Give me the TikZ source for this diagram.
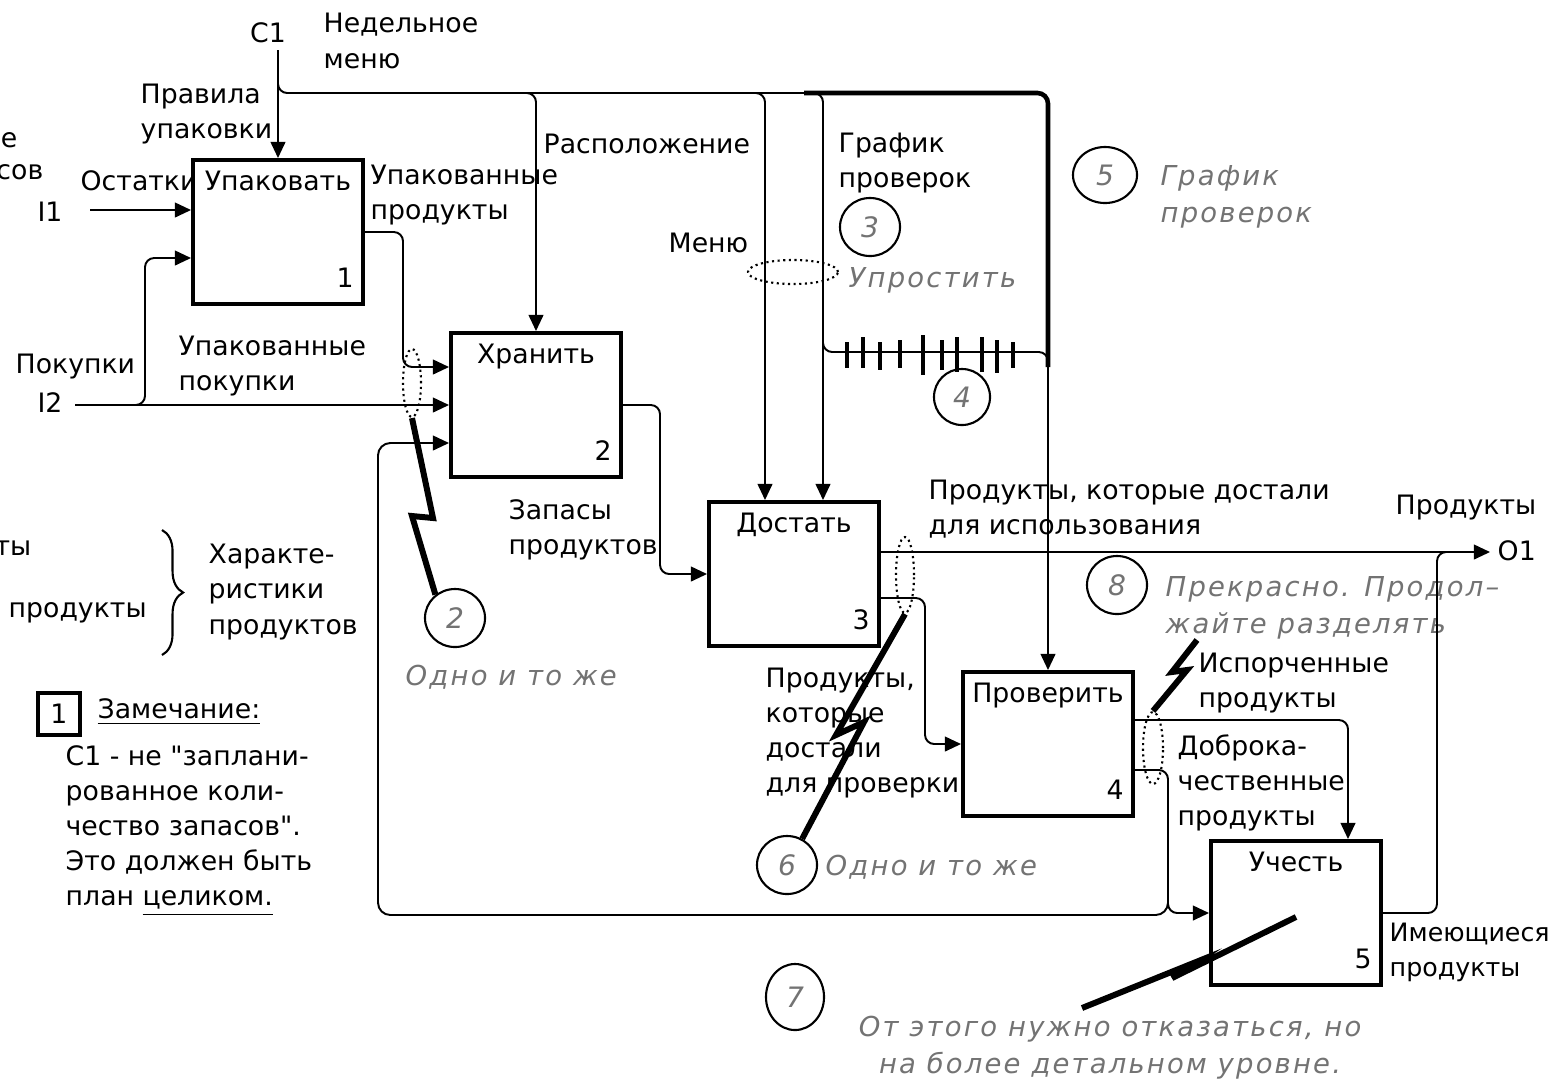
\documentclass[tikz,border=0pt]{standalone}
\usepackage{fontspec}
\setmainfont{DejaVu Sans}
\newfontfamily\notefont[LetterSpace=8]{DejaVu Sans}
\usetikzlibrary{arrows.meta,shapes.geometric,calc,decorations.pathreplacing}
\newcommand\sz{\fontsize{7.6}{10}\selectfont}

\tikzset{
  func/.style={draw, line width=1.1pt, minimum width=1.7cm, minimum height=1.44cm, inner sep=0pt},
  fname/.style={anchor=north, inner sep=3.5pt},
  fnum/.style={anchor=south east, inner xsep=3pt, inner ysep=5pt},
  flow/.style={line width=0.55pt, rounded corners=2.6pt},
  arr/.style={flow, -{Triangle[length=4.6pt, width=4.2pt]}},
  heavy/.style={line width=1.3pt, rounded corners=3pt},
  bolt/.style={line width=1.7pt, line join=miter},
  hatch/.style={line width=1.3pt},
  bundle/.style={draw, ellipse, densely dotted, line width=0.6pt, inner sep=0pt},
  cmark/.style={draw, ellipse, line width=0.6pt, inner sep=0pt, minimum width=0.6cm, minimum height=0.58cm,
    font={\notefont\itshape\fontsize{8}{10}\selectfont}, text=black!55},
  note/.style={font={\notefont\itshape\fontsize{7.8}{10.5}\selectfont}, text=black!55, inner sep=0pt, anchor=west, align=left},
  lbl/.style={inner sep=0pt, anchor=west, align=left},
}

\begin{document}
\begin{tikzpicture}[x=0.01cm, y=-0.01cm, font=\sz]
  \useasboundingbox (0,0) rectangle (1555,1084);

  % functions
  \node[func, label={[fname]north:Упаковать}, label={[fnum]south east:1}] (b1) at (278,232) {};
  \node[func, label={[fname]north:Хранить}, label={[fnum]south east:2}] (b2) at (536,405) {};
  \node[func, label={[fname]north:Достать}, label={[fnum]south east:3}] (b3) at (794,574) {};
  \node[func, label={[fname]north:Проверить}, label={[fnum]south east:4}] (b4) at (1048,744) {};
  \node[func, label={[fname]north:Учесть}, label={[fnum]south east:5}] (b5) at (1296,913) {};

  % arrow labels
  \node[lbl, anchor=center] (c1lab) at (268,33) {C1};
  \node[lbl] (weekmenu) at (323,41) {Недельное\\меню};
  \node[lbl] (rules) at (140,114) {Правила\\упаковки};
  \node[lbl, anchor=east] (cut1) at (18,140) {е};
  \node[lbl, anchor=east] (cut2) at (44,172) {сов};
  \node[lbl] (rest) at (80,181) {Остатки};
  \node[lbl, anchor=center] (i1lab) at (50,212) {I1};
  \node[lbl] (packprod) at (370,195) {Упакованные\\продукты};
  \node[lbl] (buy) at (15,367) {Покупки};
  \node[lbl, anchor=center] (i2lab) at (50,403) {I2};
  \node[lbl] (packbuy) at (178,366) {Упакованные\\покупки};
  \node[lbl] (place) at (543,144) {Расположение};
  \node[lbl] (sched) at (838,163) {График\\проверок};
  \node[lbl] (menu) at (668,243) {Меню};
  \node[lbl] (stock) at (508,530) {Запасы\\продуктов};
  \node[lbl] (use) at (928,509) {Продукты, которые достали\\для использования};
  \node[lbl] (prod) at (1395,508) {Продукты};
  \node[lbl] (o1lab) at (1497,551) {O1};
  \node[lbl] (check) at (765,733) {Продукты,\\которые\\достали\\для проверки};
  \node[lbl] (bad) at (1198,683) {Испорченные\\продукты};
  \node[lbl] (good) at (1177,783) {Доброка-\\чественные\\продукты};
  \node[lbl, font=\fontsize{7.2}{10}\selectfont] (have) at (1389,952) {Имеющиеся\\продукты};

  % left margin
  \node[lbl, anchor=east] (cut3) at (32,548) {ты};
  \node[lbl] (cut4) at (8,613) {продукты};
  \node[lbl] (chars) at (208,592) {Характе-\\ристики\\продуктов};
  \draw[decorate, decoration={brace, amplitude=6pt}, line width=0.6pt] (162,530) -- (162,655);
  \node[draw, line width=1pt, minimum size=0.42cm, inner sep=0pt] (nb1) at (59,714) {1};
  \node[lbl] (remark) at (97,712) {\underline{Замечание:}};
  \node[lbl] (remtext) at (65,831) {C1 - не \textquotedbl заплани-\\рованное коли-\\чество запасов\textquotedbl.\\Это должен быть\\план \underline{целиком.}};

  % reader notes
  \node[cmark] (n2) at (455,618) {2};
  \node[note] (t2) at (405,677) {Одно и то же};
  \node[cmark] (n3) at (870,227) {3};
  \node[note] (t3) at (848,280) {Упростить};
  \node[cmark, minimum width=0.56cm, minimum height=0.56cm] (n4) at (962,397) {4};
  \node[cmark, minimum width=0.64cm, minimum height=0.56cm] (n5) at (1105,175) {5};
  \node[note] (t5) at (1160,197) {График\\проверок};
  \node[cmark] (n6) at (787,865) {6};
  \node[note] (t6) at (825,867) {Одно и то же};
  \node[cmark, minimum width=0.58cm, minimum height=0.66cm] (n7) at (795,997) {7};
  \node[note, anchor=center, align=center] (t7) at (1110,1048) {От этого нужно отказаться, но\\на более детальном уровне.};
  \node[cmark] (n8) at (1117,585) {8};
  \node[note] (t8) at (1165,608) {Прекрасно. Продол–\\жайте разделять};

  % bundles
  \node[bundle, minimum width=0.18cm, minimum height=0.68cm] (bn2) at (412,383) {};
  \node[bundle, minimum width=0.18cm, minimum height=0.76cm] (bn3) at (905,575) {};
  \node[bundle, minimum width=0.2cm, minimum height=0.72cm] (bn4) at (1153,748) {};
  \node[bundle, minimum width=0.9cm, minimum height=0.24cm] (bnm) at (793,272) {};

  % route points
  \coordinate (c1) at (278,50);
  \coordinate (c1b) at (278,80);
  \coordinate (k1) at (804,93);
  \coordinate (k2) at (1048,367);
  \coordinate (j2) at (515,93);
  \coordinate (j3a) at (745,93);
  \coordinate (j3b) at (803,93);
  \coordinate (h1) at (823,330);
  \coordinate (h2) at (1048,352);
  \coordinate (i1) at (90,210);
  \coordinate (i2) at (75,405);
  \coordinate (i2b) at (128,405);
  \coordinate (p1) at (145,258);
  \coordinate (p2) at (403,367);
  \coordinate (p3) at (660,574);
  \coordinate (p4) at (925,744);
  \coordinate (o1) at (1490,552);
  \coordinate (q0) at (1168,890);
  \coordinate (q1) at (1168,913);
  \coordinate (q2) at (378,915);
  \coordinate (q3) at (378,443);
  \coordinate (m1) at (1437,552);
  \coordinate (m2) at (1460,552);

  % controls
  \draw[arr] (c1) -- (b1);
  \draw[flow] (c1b) |- (k1);
  \draw[heavy] (k1) -| (k2);
  \draw[arr] (k2) -- (b4);
  \draw[arr] (j2) -| (b2);
  \draw[arr] (j3a) -| ($(b3.north)+(-29,0)$);
  \draw[arr] (j3b) -| ($(b3.north)+(29,0)$);
  \draw[flow] (h1) |- (h2) -- (k2);
  \foreach \x/\a/\b in {847/342/368, 863/337/368, 880/342/370, 900/340/368, 923/335/375,
                        942/340/370, 957/337/372, 982/337/372, 997/340/373, 1013/342/368}
    \draw[hatch] (\x,\a) -- (\x,\b);

  % inputs and outputs
  \draw[arr] (i1) -- (i1 -| b1.west);
  \draw[arr] (i2) -- (b2);
  \draw[arr] (i2b) -| (p1) -- (p1 -| b1.west);
  \draw[arr] (b1.east) -| (p2) -- (p2 -| b2.west);
  \draw[arr] (b2.east) -| (p3) -- (b3.west);
  \draw[arr] (b3.east |- o1) -- (o1);
  \draw[arr] ($(b3.east)+(0,24)$) -| (p4) -- (b4.west);
  \draw[arr] ($(b4.east)+(0,-24)$) -| ($(b5.north)+(52,0)$);
  \draw[arr] ($(b4.east)+(0,26)$) -| (q1) -- (b5.west);
  \draw[arr, rounded corners=3.5pt] (q0) |- (q2) -- (q3) -- (q3 -| b2.west);
  \draw[flow] (b5.east) -| (m1) -- (m2);

  % bolts
  \draw[bolt] (bn2.south) -- (433,518) -- (412,516) -- (n2.130);
  \draw[bolt] (bn3.south) -- (836,735) -- (864,722) -- (n6.60);
  \draw[bolt] (bn4.north) -- (1187,670) -- (1172,672) -- (1197,640);
  \draw[bolt] (1296,917) -- (1172,978) -- (1196,962) -- (1082,1008);
\end{tikzpicture}
\end{document}
